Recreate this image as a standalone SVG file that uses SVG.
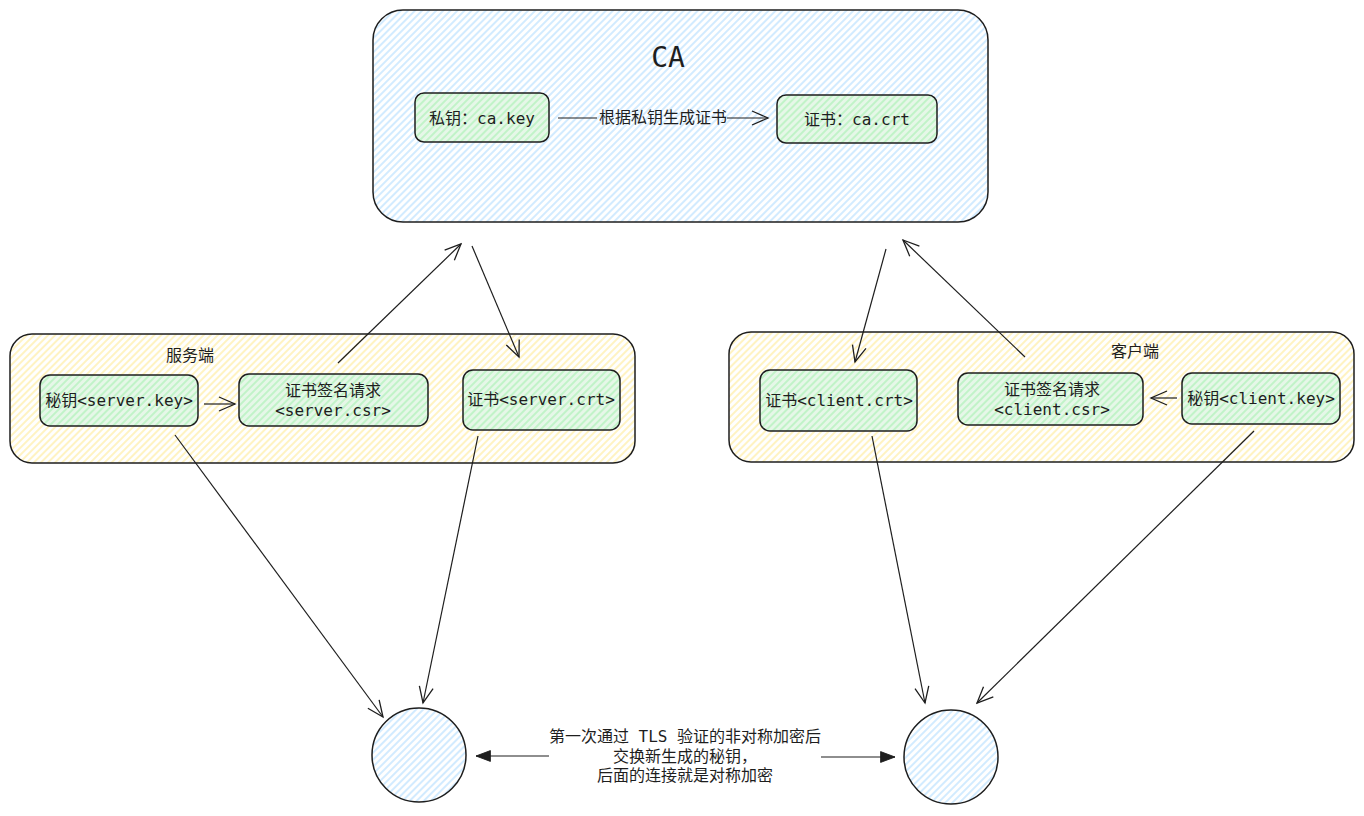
<svg xmlns="http://www.w3.org/2000/svg" width="1364" height="816" viewBox="0 0 1364 816">
<defs>
<pattern id="hb" width="5" height="5" patternUnits="userSpaceOnUse" patternTransform="rotate(45)"><rect width="5" height="5" fill="#ffffff"/><line x1="1" y1="0" x2="1" y2="5" stroke="#a5d8ff" stroke-width="1"/></pattern>
<pattern id="hy" width="5" height="5" patternUnits="userSpaceOnUse" patternTransform="rotate(45)"><rect width="5" height="5" fill="#ffffff"/><line x1="1" y1="0" x2="1" y2="5" stroke="#ffec99" stroke-width="1.2"/></pattern>
<pattern id="hg" width="5" height="5" patternUnits="userSpaceOnUse" patternTransform="rotate(45)"><rect width="5" height="5" fill="#e6f7e8"/><line x1="1" y1="0" x2="1" y2="5" stroke="#b2f2bb" stroke-width="1.4"/></pattern>
<marker id="open" viewBox="0 0 20 20" refX="18" refY="10" markerWidth="20" markerHeight="20" markerUnits="userSpaceOnUse" orient="auto"><path d="M2 3 L18 10 L2 17" fill="none" stroke="#1e1e1e" stroke-width="1.3"/></marker>
<marker id="solid" viewBox="0 0 20 20" refX="18" refY="10" markerWidth="18" markerHeight="18" markerUnits="userSpaceOnUse" orient="auto"><path d="M2 4 L18 10 L2 16 Z" fill="#1e1e1e" stroke="#1e1e1e" stroke-width="1"/></marker>
</defs>
<style>
.box{stroke:#1e1e1e;stroke-width:1.5}
.t{font-family:"DejaVu Sans Mono","Noto Sans CJK SC",monospace;font-size:16px;fill:#1e1e1e;text-anchor:middle;dominant-baseline:central}
.c{stroke:#1e1e1e;stroke-width:1.2;fill:none}
</style>
<rect width="1364" height="816" fill="#ffffff"/>
<g id="ca">
<rect class="box" x="373" y="10" width="615" height="212" rx="30" fill="url(#hb)"/>
<text class="t" x="668" y="57" style="font-size:28px">CA</text>
</g>
<g id="ca-key"><rect class="box" x="415" y="93" width="134" height="49" rx="9" fill="url(#hg)"/><text class="t" x="482" y="118">私钥：ca.key</text></g>
<g id="ca-crt"><rect class="box" x="777" y="95" width="160" height="48" rx="9" fill="url(#hg)"/><text class="t" x="857" y="119">证书：ca.crt</text></g>
<g id="server">
<rect class="box" x="10" y="334" width="625" height="129" rx="22" fill="url(#hy)"/>
<text class="t" x="190" y="355">服务端</text>
</g>
<g id="server-key"><rect class="box" x="40" y="375" width="158" height="51" rx="10" fill="url(#hg)"/><text class="t" x="119" y="400">秘钥&lt;server.key&gt;</text></g>
<g id="server-csr"><rect class="box" x="239" y="374" width="189" height="52" rx="10" fill="url(#hg)"/><text class="t" x="333" y="390">证书签名请求</text><text class="t" x="333" y="410">&lt;server.csr&gt;</text></g>
<g id="server-crt"><rect class="box" x="463" y="370" width="157" height="60" rx="10" fill="url(#hg)"/><text class="t" x="541" y="399">证书&lt;server.crt&gt;</text></g>
<g id="client">
<rect class="box" x="729" y="332" width="625" height="130" rx="22" fill="url(#hy)"/>
<text class="t" x="1135" y="351">客户端</text>
</g>
<g id="client-crt"><rect class="box" x="760" y="370" width="157" height="61" rx="10" fill="url(#hg)"/><text class="t" x="839" y="400">证书&lt;client.crt&gt;</text></g>
<g id="client-csr"><rect class="box" x="958" y="373" width="185" height="52" rx="10" fill="url(#hg)"/><text class="t" x="1052" y="389">证书签名请求</text><text class="t" x="1052" y="409">&lt;client.csr&gt;</text></g>
<g id="client-key"><rect class="box" x="1182" y="373" width="158" height="51" rx="10" fill="url(#hg)"/><text class="t" x="1261" y="398">秘钥&lt;client.key&gt;</text></g>
<g id="circle-left"><circle class="box" cx="419" cy="755" r="47" fill="url(#hb)"/></g>
<g id="circle-right"><circle class="box" cx="951" cy="757" r="47" fill="url(#hb)"/></g>
<g id="connectors">
<line class="c" x1="558" y1="118" x2="597" y2="118" stroke-width="2"/>
<line class="c" x1="727" y1="118" x2="768" y2="118" stroke-width="2" marker-end="url(#open)"/>
<text class="t" x="663" y="117">根据私钥生成证书</text>
<line class="c" x1="204" y1="404" x2="235" y2="404" marker-end="url(#open)"/>
<line class="c" x1="1177" y1="398" x2="1151" y2="398" marker-end="url(#open)"/>
<line class="c" x1="338" y1="363" x2="461" y2="244" marker-end="url(#open)"/>
<line class="c" x1="472" y1="246" x2="519" y2="357" marker-end="url(#open)"/>
<line class="c" x1="886" y1="249" x2="855" y2="362" marker-end="url(#open)"/>
<line class="c" x1="1025" y1="357" x2="903" y2="240" marker-end="url(#open)"/>
<line class="c" x1="175" y1="435" x2="383" y2="717" marker-end="url(#open)"/>
<line class="c" x1="478" y1="436" x2="423" y2="703" marker-end="url(#open)"/>
<line class="c" x1="872" y1="436" x2="925" y2="703" marker-end="url(#open)"/>
<line class="c" x1="1254" y1="431" x2="977" y2="703" marker-end="url(#open)"/>
<line class="c" x1="549" y1="756" x2="476" y2="756" stroke-width="2" marker-end="url(#solid)"/>
<line class="c" x1="821" y1="757" x2="895" y2="757" stroke-width="2" marker-end="url(#solid)"/>
<text class="t" x="685" y="736">第一次通过 TLS 验证的非对称加密后</text>
<text class="t" x="685" y="756">交换新生成的秘钥，</text>
<text class="t" x="685" y="775">后面的连接就是对称加密</text>
</g>
</svg>
